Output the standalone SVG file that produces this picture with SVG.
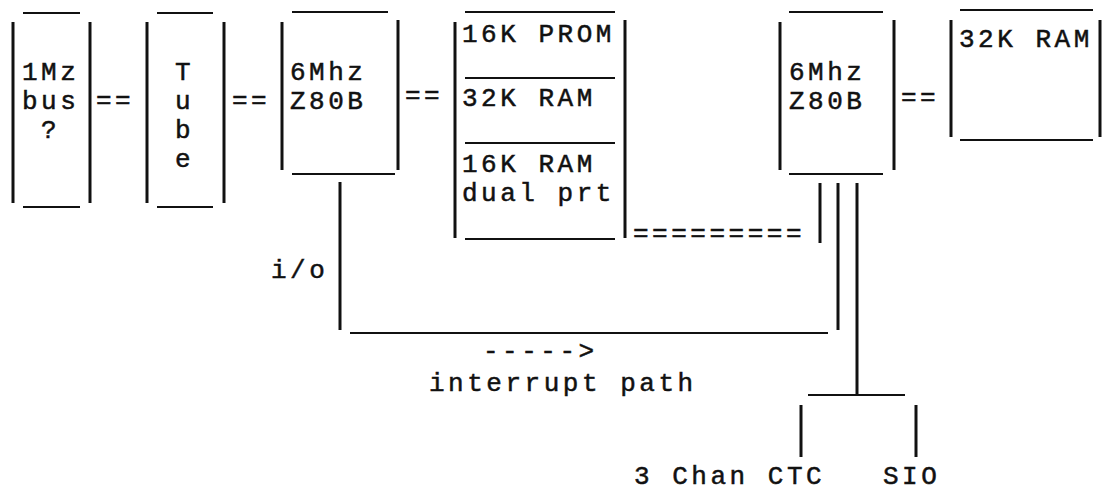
<svg xmlns="http://www.w3.org/2000/svg" width="1103" height="491" viewBox="0 0 1103 491">
<style>
  .t { font-family: "Liberation Mono", "DejaVu Sans Mono", monospace; font-size: 26px; letter-spacing: 3.52px; fill: #111; stroke: #111; stroke-width: 0.5px; }
  .v { stroke: #111; stroke-width: 3; fill: none; }
  .h { stroke: #111; stroke-width: 2.2; fill: none; }
</style>
<rect width="1103" height="491" fill="#fff"/>

<g id="bus1mz">
  <line class="h" x1="23" y1="13" x2="80" y2="13"/>
  <line class="v" x1="13" y1="22" x2="13" y2="203"/>
  <line class="v" x1="90" y1="22" x2="90" y2="203"/>
  <line class="h" x1="23" y1="207" x2="80" y2="207"/>
  <text class="t" x="22" y="80">1Mz</text>
  <text class="t" x="22" y="109">bus</text>
  <text class="t" x="41" y="138">?</text>
</g>

<g id="tube">
  <line class="h" x1="157" y1="13" x2="213" y2="13"/>
  <line class="v" x1="147" y1="22" x2="147" y2="203"/>
  <line class="v" x1="224" y1="22" x2="224" y2="203"/>
  <line class="h" x1="157" y1="207" x2="213" y2="207"/>
  <text class="t" x="175" y="80">T</text>
  <text class="t" x="175" y="109">u</text>
  <text class="t" x="175" y="138">b</text>
  <text class="t" x="175" y="167">e</text>
</g>

<g id="cpu1">
  <line class="h" x1="292" y1="12" x2="388" y2="12"/>
  <line class="v" x1="282" y1="22" x2="282" y2="170"/>
  <line class="v" x1="398" y1="20" x2="398" y2="170"/>
  <line class="h" x1="292" y1="174" x2="395" y2="174"/>
  <text class="t" x="290" y="80">6Mhz</text>
  <text class="t" x="290" y="109">Z80B</text>
</g>

<g id="memory">
  <line class="h" x1="465" y1="12" x2="615" y2="12"/>
  <line class="v" x1="455" y1="22" x2="455" y2="238"/>
  <line class="v" x1="625" y1="20" x2="625" y2="238"/>
  <line class="h" x1="465" y1="78" x2="615" y2="78"/>
  <line class="h" x1="465" y1="143" x2="615" y2="143"/>
  <line class="h" x1="465" y1="239" x2="615" y2="239"/>
  <text class="t" x="462" y="42">16K PROM</text>
  <text class="t" x="462" y="106">32K RAM</text>
  <text class="t" x="462" y="172">16K RAM</text>
  <text class="t" x="462" y="201">dual prt</text>
</g>

<g id="cpu2">
  <line class="h" x1="789" y1="12" x2="883" y2="12"/>
  <line class="v" x1="780" y1="22" x2="780" y2="170"/>
  <line class="v" x1="894" y1="20" x2="894" y2="170"/>
  <line class="h" x1="789" y1="174" x2="883" y2="174"/>
  <text class="t" x="789" y="80">6Mhz</text>
  <text class="t" x="789" y="109">Z80B</text>
</g>

<g id="ram2">
  <line class="h" x1="960" y1="10" x2="1093" y2="10"/>
  <line class="v" x1="951" y1="20" x2="951" y2="137"/>
  <line class="v" x1="1100" y1="20" x2="1100" y2="137"/>
  <line class="h" x1="960" y1="140" x2="1093" y2="140"/>
  <text class="t" x="959" y="47">32K RAM</text>
</g>

<g id="ctc">
  <text class="t" x="634" y="484">3 Chan CTC</text>
</g>

<g id="sio">
  <text class="t" x="883" y="484">SIO</text>
</g>

<g id="connectors">
  <text class="t" x="96" y="108">==</text>
  <text class="t" x="232" y="108">==</text>
  <text class="t" x="405" y="103">==</text>
  <text class="t" x="901" y="105">==</text>
  <text class="t" x="633" y="241">=========</text>

  <line class="v" x1="340" y1="182" x2="340" y2="330"/>
  <line class="h" x1="350" y1="333" x2="828" y2="333"/>
  <line class="v" x1="820" y1="183" x2="820" y2="243"/>
  <line class="v" x1="838" y1="183" x2="838" y2="330"/>
  <line class="v" x1="857" y1="183" x2="857" y2="395"/>
  <line class="h" x1="808" y1="395" x2="905" y2="395"/>
  <line class="v" x1="801" y1="405" x2="801" y2="457"/>
  <line class="v" x1="916" y1="405" x2="916" y2="457"/>

  <text class="t" x="271" y="278">i/o</text>
  <text class="t" x="483" y="359">-----&gt;</text>
  <text class="t" x="429" y="391">interrupt path</text>
</g>
</svg>
